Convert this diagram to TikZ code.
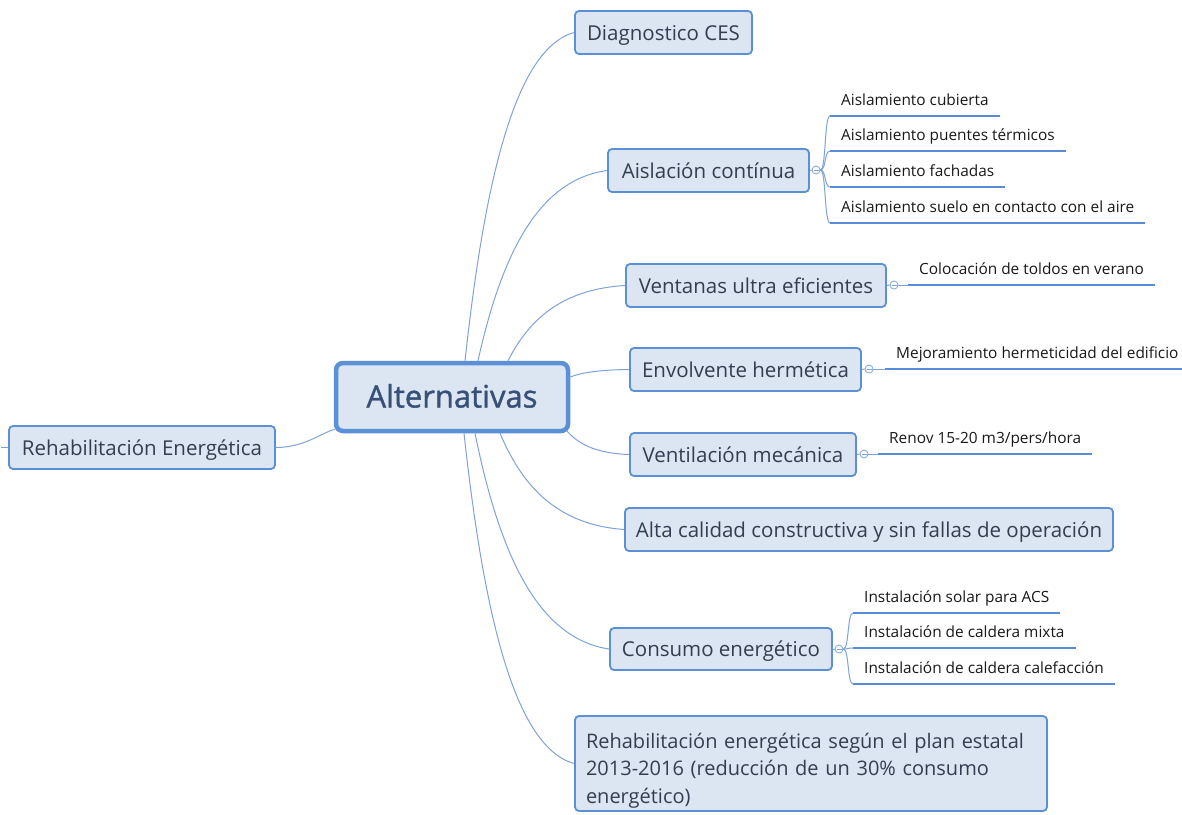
\documentclass[tikz,border=0pt]{standalone}
\usepackage{fontspec}
\setmainfont{Open Sans}
\newfontfamily\altfont{Open Sans}[FakeBold=1.2]
\usetikzlibrary{calc}
\definecolor{boxfill}{RGB}{220,230,242}
\definecolor{boxline}{RGB}{91,143,214}
\definecolor{conncol}{RGB}{125,163,220}
\definecolor{maintext}{RGB}{52,62,80}
\definecolor{alttext}{RGB}{55,80,120}
\definecolor{leaftext}{RGB}{25,25,25}
\definecolor{ulinecol}{RGB}{88,140,214}
\tikzset{
 topic/.style={draw=boxline, fill=boxfill, line width=1.8pt, rounded corners=4pt, minimum height=43pt, text=maintext, font=\fontsize{20.5}{24}\selectfont, inner sep=0pt, text height=20pt, text depth=5pt},
 central/.style={topic, line width=4.5pt, rounded corners=7pt, text=alttext, font=\altfont\fontsize{31}{35}\selectfont, text height=25pt, text depth=4pt},
 leaf/.style={anchor=south west, text=leaftext, font=\fontsize{15.4}{18}\selectfont, inner xsep=11pt, inner ysep=6.5pt, text height=11pt, text depth=3.5pt},
 uline/.style={draw=ulinecol, line width=2.8pt},
 branch/.style={draw=conncol, line width=1pt},
 toggle/.style={circle, draw=conncol, fill=white, line width=0.8pt, minimum size=8pt, inner sep=0pt,
   path picture={\draw[conncol, line width=0.7pt] ([xshift=1.5pt]path picture bounding box.west) -- ([xshift=-1.5pt]path picture bounding box.east);}},
}
\newcommand\mmbranch[2]{\draw[branch] let \p1=(#1), \p2=(#2) in (\p1) .. controls ({\x1+0.18*(\x2-\x1)},{\y1+0.55*(\y2-\y1)}) and ({\x1+0.46*(\x2-\x1)},{\y2-0.05*(\y2-\y1)}) .. (\p2);}
\newcommand\mmleaf[2]{\draw[branch] let \p1=(#1), \p2=(#2) in (\p1) .. controls ({\x1+0.6*(\x2-\x1)},\y1) and ({\x1+0.4*(\x2-\x1)},\y2) .. (\p2);}
\begin{document}
\begin{tikzpicture}[x=1pt,y=-1pt]
\fill[white] (0,0) rectangle (1182,814);
\useasboundingbox (0,0) rectangle (1182,814);

% main topics
\node[central, minimum width=232pt, minimum height=68pt] (alt) at (452,397) {Alternativas};
\node[topic, minimum width=266pt] (rehabE) at (142,447.5) {Rehabilitación Energética};
\node[topic, minimum width=177pt] (diag) at (663.5,32.5) {Diagnostico CES};
\node[topic, minimum width=201pt] (aisl) at (708.5,170.5) {Aislación contínua};
\node[topic, minimum width=260pt] (vent) at (756,285.5) {Ventanas ultra eficientes};
\node[topic, minimum width=231pt] (envol) at (745.5,369.5) {Envolvente hermética};
\node[topic, minimum width=226pt] (ventil) at (743,454.5) {Ventilación mecánica};
\node[topic, minimum width=488pt] (alta) at (869,529.5) {Alta calidad constructiva y sin fallas de operación};
\node[topic, minimum width=222pt, minimum height=42pt] (cons) at (721,649) {Consumo energético};
\node[topic, minimum width=472pt, minimum height=95pt, text width=462pt, align=left, inner xsep=5pt,
  text height=16pt, text depth=47pt,
  font=\fontsize{20}{27.5}\selectfont] (rehab2) at (811,763.5)
  {\hspace*{6pt}Rehabilitación energética según el plan estatal\\\hspace*{6pt}2013-2016 (reducción de un 30\% consumo\\\hspace*{6pt}energético)};

% branches from central topic
\coordinate (sDiag) at ([xshift=13pt]alt.north);
\coordinate (sAisl) at ([xshift=26pt]alt.north);
\coordinate (sVent) at ([xshift=56pt]alt.north);
\coordinate (sEnvol) at ([yshift=20pt]alt.east);
\coordinate (sVentil) at ([xshift=-4pt,yshift=3pt]alt.south east);
\coordinate (sAlta) at ([xshift=48pt]alt.south);
\coordinate (sCons) at ([xshift=23pt]alt.south);
\coordinate (sRehab) at ([xshift=12pt]alt.south);
\coordinate (sLeft) at ([xshift=1pt,yshift=4pt]alt.south west);
\mmbranch{sDiag}{diag.west}
\mmbranch{sAisl}{aisl.west}
\mmbranch{sVent}{vent.west}
\mmbranch{sEnvol}{envol.west}
\mmbranch{sVentil}{ventil.west}
\mmbranch{sAlta}{alta.west}
\mmbranch{sCons}{cons.west}
\mmbranch{sRehab}{rehab2.west}
\draw[branch] (rehabE.east) .. controls ([xshift=28pt]rehabE.east) and ([xshift=-14pt,yshift=-4pt]sLeft) .. (sLeft);
\coordinate (stub) at (1,447.5);
\draw[branch] (stub) -- (rehabE.west);

% toggles
\node[toggle] (t1) at (816,170) {};
\node[toggle] (t2) at (894,285) {};
\node[toggle] (t3) at (869,369) {};
\node[toggle] (t4) at (864,454) {};
\node[toggle] (t5) at (839,649) {};
\draw[branch] (aisl.east) -- (t1.west);
\draw[branch] (vent.east) -- (t2.west);
\draw[branch] (envol.east) -- (t3.west);
\draw[branch] (ventil.east) -- (t4.west);
\draw[branch] (cons.east) -- (t5.west);

% leaves
\node[leaf] (a1) at (830,116) {Aislamiento cubierta};
\node[leaf] (a2) at (830,151) {Aislamiento puentes térmicos};
\node[leaf] (a3) at (830,187) {Aislamiento fachadas};
\node[leaf] (a4) at (830,223) {Aislamiento suelo en contacto con el aire};
\node[leaf] (v1) at (908,285) {Colocación de toldos en verano};
\node[leaf] (e1) at (885,369) {Mejoramiento hermeticidad del edificio};
\node[leaf] (w1) at (878,454) {Renov 15-20 m3/pers/hora};
\node[leaf] (c1) at (853,613) {Instalación solar para ACS};
\node[leaf] (c2) at (853,648) {Instalación de caldera mixta};
\node[leaf] (c3) at (853,684) {Instalación de caldera calefacción};
\foreach \n in {a1,a2,a3,a4,v1,e1,w1,c1,c2,c3}
  \draw[uline] (\n.south west) -- (\n.south east);

\mmleaf{t1.east}{a1.south west}
\mmleaf{t1.east}{a2.south west}
\mmleaf{t1.east}{a3.south west}
\mmleaf{t1.east}{a4.south west}
\draw[branch] (t2.east) -- (v1.south west);
\draw[branch] (t3.east) -- (e1.south west);
\draw[branch] (t4.east) -- (w1.south west);
\mmleaf{t5.east}{c1.south west}
\mmleaf{t5.east}{c2.south west}
\mmleaf{t5.east}{c3.south west}
\end{tikzpicture}
\end{document}
